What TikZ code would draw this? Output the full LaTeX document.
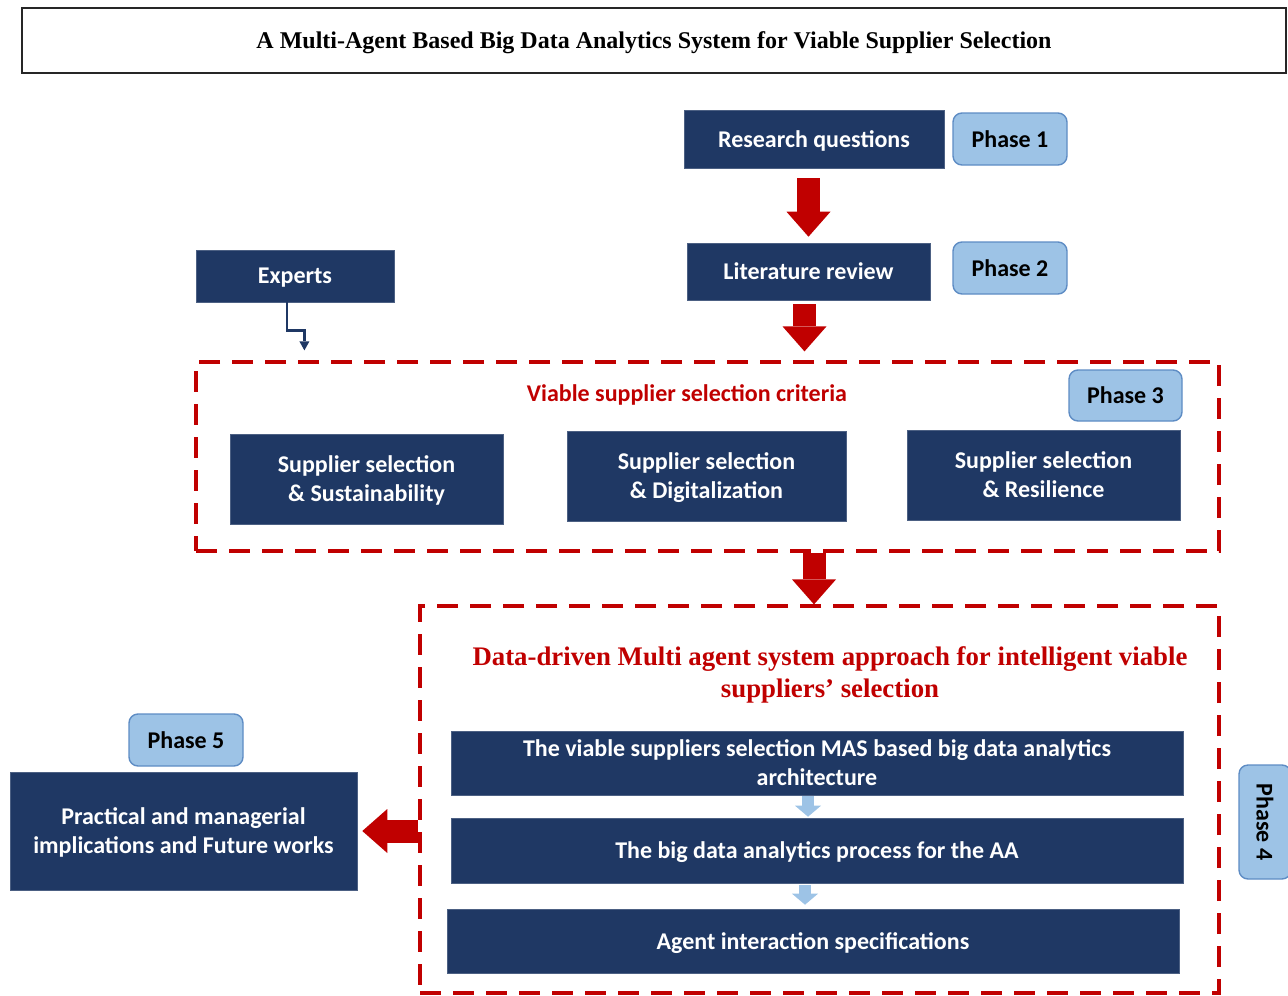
\documentclass[tikz,border=0pt]{standalone}
\usepackage{fontspec}
\setmainfont{Carlito}
\newfontfamily\tnr{Liberation Serif}
\usetikzlibrary{arrows.meta,calc}
\definecolor{navyc}{HTML}{1F3864}
\definecolor{redc}{HTML}{C00000}
\definecolor{lblue}{HTML}{9DC3E6}
\definecolor{lborder}{HTML}{5E8CC4}
\begin{document}
\begin{tikzpicture}[x=1pt,y=-1pt,
  navybox/.style={fill=navyc, draw=navyc!80!white, line width=0.6pt, text=white, inner sep=0pt, align=center,
    text depth=0pt, font=\bfseries\fontsize{24}{29}\selectfont},
  phasebox/.style={fill=lblue, draw=lborder, line width=1.4pt, rounded corners=9pt, inner sep=0pt,
    minimum width=114pt, minimum height=52pt, text=black, font=\bfseries\fontsize{24}{28}\selectfont},
  dashbox/.style={draw=redc, line width=3.2pt, dash pattern=on 21pt off 12pt, inner sep=0pt},
  bigred/.style={draw=redc, line width=23pt, -{Triangle[length=25pt,width=44pt,line width=0pt]}},
  smallblue/.style={draw=lblue, line width=12pt, -{Triangle[length=11pt,width=26pt,line width=0pt]}},
  conn/.style={draw=navyc, line width=2.6pt, -{Triangle[length=9pt,width=10pt,line width=0pt]}}
]
\useasboundingbox (0,0) rectangle (1288,996);
% title
\node[draw=black!85, line width=1.3pt, minimum width=1264pt, minimum height=65pt, inner sep=0pt, text depth=0pt,
  font=\tnr\bfseries\fontsize{24}{28}\selectfont] (title) at (654,40.5)
  {A Multi-Agent Based Big Data Analytics System for Viable Supplier Selection};
% phase 1-2
\node[navybox, minimum width=260pt, minimum height=58pt] (rq) at (814,139) {Research questions};
\node[phasebox] (p1) at (1010,139) {Phase 1};
\node[navybox, minimum width=243pt, minimum height=57pt] (lr) at (808.5,271.5) {Literature review};
\node[phasebox] (p2) at (1010,268) {Phase 2};
\node[navybox, minimum width=198pt, minimum height=52pt] (ex) at (295,276) {Experts};
% criteria
\node[dashbox, minimum width=1023pt, minimum height=189pt] (crit) at (707.5,456.5) {};
\node[text=redc, font=\bfseries\fontsize{24}{28}\selectfont] (crittitle) at (687,395) {Viable supplier selection criteria};
\node[phasebox, minimum width=113pt, minimum height=51pt] (p3) at (1125.5,395.5) {Phase 3};
\node[navybox, minimum width=273pt, minimum height=90pt] (ss) at (366.5,479) {Supplier selection\\ \& Sustainability};
\node[navybox, minimum width=279pt, minimum height=90pt] (sd) at (706.5,476) {Supplier selection\\ \& Digitalization};
\node[navybox, minimum width=273pt, minimum height=90pt] (sr) at (1043.5,475) {Supplier selection\\ \& Resilience};
% MAS
\node[dashbox, minimum width=799pt, minimum height=387pt] (mas) at (819.5,799.5) {};
\node[text=redc, align=center, font=\tnr\bfseries\fontsize{26.8}{32}\selectfont] (mastitle) at (830,675)
  {Data-driven Multi agent system approach for intelligent viable\\ suppliers’ selection};
\node[navybox, minimum width=732pt, minimum height=64pt] (m1) at (817,763)
  {The viable suppliers selection MAS based big data analytics\\ architecture};
\node[navybox, minimum width=732pt, minimum height=65pt] (m2) at (817,850.5) {The big data analytics process for the AA};
\node[navybox, minimum width=732pt, minimum height=64pt] (m3) at (813,941) {Agent interaction specifications};
\node[phasebox, rotate=-90] (p4) at (1265,822) {Phase 4};
% phase 5
\node[phasebox] (p5) at (186,740) {Phase 5};
\node[navybox, minimum width=347pt, minimum height=118pt] (pr) at (183.5,831)
  {Practical and managerial\\ implications and Future works};
% connectors
\draw[bigred, shorten <=10pt, shorten >=6pt] (lr.north |- rq.south) -- (lr.north);
\draw[bigred, shorten <=4pt, shorten >=9pt] ([xshift=-4pt]lr.south) -- ([xshift=-4pt]lr.south |- crit.north);
\draw[bigred] (crit.south -| rq.south) -- (mas.north -| rq.south);
\draw[bigred, shorten >=5pt] (mas.west |- pr.east) -- (pr.east);
\draw[smallblue, shorten <=1pt, shorten >=1pt] ([xshift=-9pt]m1.south) -- ([xshift=-9pt]m1.south |- m2.north);
\draw[smallblue, shorten <=2pt, shorten >=4pt] ([xshift=-12pt]m2.south) -- ([xshift=-12pt]m2.south |- m3.north);
\coordinate (exin) at ($(crit.north west)+(110,-10)$);
\draw[conn] ([xshift=-8pt]ex.south) -- ++(0,28) -| (exin);
\end{tikzpicture}
\end{document}
